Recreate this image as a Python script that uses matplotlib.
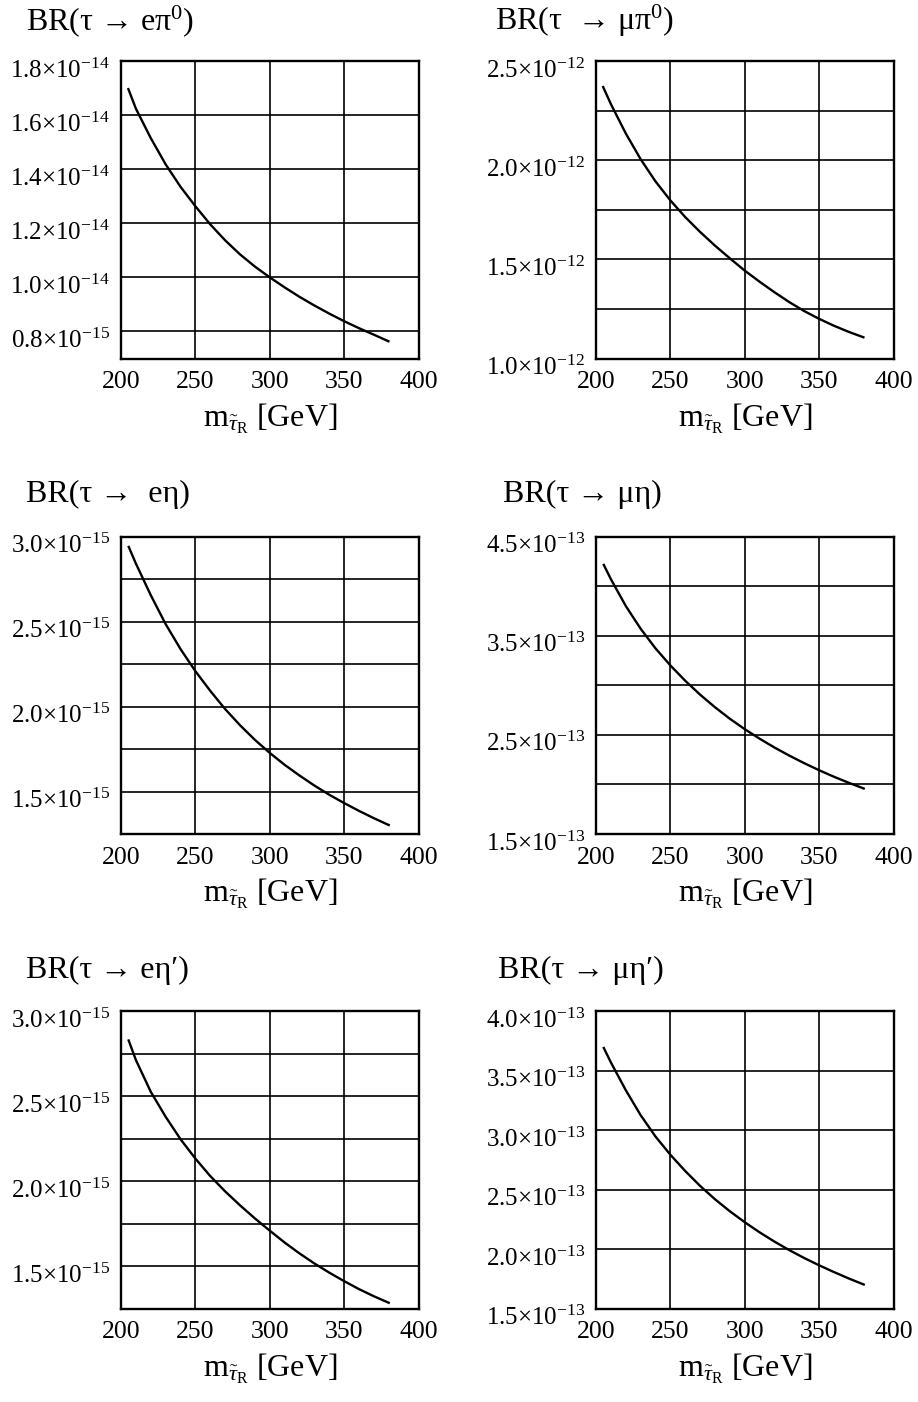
import matplotlib
matplotlib.use("Agg")
import matplotlib.pyplot as plt
import matplotlib.ticker as ticker
import matplotlib.transforms as mtransforms

plt.rcParams['font.family'] = ['Liberation Serif', 'DejaVu Serif']
plt.rcParams['mathtext.fontset'] = 'custom'
plt.rcParams['mathtext.rm'] = 'Liberation Serif'
plt.rcParams['mathtext.it'] = 'Liberation Serif:italic'
plt.rcParams['mathtext.bf'] = 'Liberation Serif:bold'

# panel titles
titles = [
    "BR(τ → eπ${}^{0}$)",
    "BR(τ  → μπ${}^{0}$)",
    "BR(τ →  eη)",
    "BR(τ → μη)",
    "BR(τ → eη′)",
    "BR(τ → μη′)",
]

# stau mass [GeV] and branching ratio (in units of 10^exponent)
m_e_pi = [204.7, 210, 220, 230, 240, 250, 260, 270, 280, 290, 300,
          310, 320, 330, 340, 350, 360, 370, 380.5]
br_e_pi = [1.70, 1.624, 1.515, 1.418, 1.335, 1.263, 1.196, 1.137, 1.085, 1.040, 1.000,
           0.963, 0.928, 0.896, 0.866, 0.838, 0.812, 0.788, 0.762]

m_mu_pi = [204.5, 210, 220, 230, 240, 250, 260, 270, 280, 290, 300,
           310, 320, 330, 340, 350, 360, 370, 380.5]
br_mu_pi = [2.374, 2.283, 2.135, 2.005, 1.893, 1.797, 1.713, 1.638, 1.569, 1.505, 1.443,
            1.387, 1.334, 1.284, 1.239, 1.200, 1.165, 1.134, 1.105]

m_e_eta = [204.9, 210, 220, 230, 240, 250, 260, 270, 280, 290, 300,
           310, 320, 330, 340, 350, 360, 370, 380.7]
br_e_eta = [2.945, 2.841, 2.655, 2.485, 2.338, 2.208, 2.092, 1.985, 1.890, 1.804, 1.727,
            1.657, 1.594, 1.535, 1.481, 1.432, 1.386, 1.343, 1.300]

m_mu_eta = [204.9, 210, 220, 230, 240, 250, 260, 270, 280, 290, 300,
            310, 320, 330, 340, 350, 360, 370, 380.7]
br_mu_eta = [4.224, 4.07, 3.80, 3.57, 3.372, 3.200, 3.045, 2.905, 2.778, 2.662, 2.557,
             2.461, 2.372, 2.290, 2.214, 2.143, 2.077, 2.016, 1.955]

m_e_etap = [204.9, 210, 220, 230, 240, 250, 260, 270, 280, 290, 300,
            310, 320, 330, 340, 350, 360, 370, 380.7]
br_e_etap = [2.833, 2.712, 2.525, 2.378, 2.246, 2.132, 2.029, 1.939, 1.857, 1.780, 1.708,
             1.638, 1.574, 1.515, 1.461, 1.411, 1.364, 1.322, 1.281]

m_mu_etap = [204.9, 210, 220, 230, 240, 250, 260, 270, 280, 290, 300,
             310, 320, 330, 340, 350, 360, 370, 380.7]
br_mu_etap = [3.698, 3.568, 3.335, 3.125, 2.945, 2.792, 2.655, 2.530, 2.418, 2.317, 2.225,
              2.140, 2.062, 1.990, 1.924, 1.863, 1.806, 1.752, 1.698]

masses = [m_e_pi, m_mu_pi, m_e_eta, m_mu_eta, m_e_etap, m_mu_etap]
brs = [br_e_pi, br_mu_pi, br_e_eta, br_mu_eta, br_e_etap, br_mu_etap]
exponents = [-14, -12, -15, -13, -15, -13]

# y grid positions and tick labels (empty string = grid line only)
y_limits = [(0.7, 1.8), (1.0, 2.5), (1.25, 3.0), (1.5, 4.5), (1.25, 3.0), (1.5, 4.0)]
y_ticks = [
    [0.8, 1.0, 1.2, 1.4, 1.6, 1.8],
    [1.0, 1.25, 1.5, 1.75, 2.0, 2.25, 2.5],
    [1.25, 1.5, 1.75, 2.0, 2.25, 2.5, 2.75, 3.0],
    [1.5, 2.0, 2.5, 3.0, 3.5, 4.0, 4.5],
    [1.25, 1.5, 1.75, 2.0, 2.25, 2.5, 2.75, 3.0],
    [1.5, 2.0, 2.5, 3.0, 3.5, 4.0],
]
y_labels = [
    ["0.8×10$^{-15}$", "1.0×10$^{-14}$", "1.2×10$^{-14}$", "1.4×10$^{-14}$", "1.6×10$^{-14}$", "1.8×10$^{-14}$"],
    ["1.0×10$^{-12}$", "", "1.5×10$^{-12}$", "", "2.0×10$^{-12}$", "", "2.5×10$^{-12}$"],
    ["", "1.5×10$^{-15}$", "", "2.0×10$^{-15}$", "", "2.5×10$^{-15}$", "", "3.0×10$^{-15}$"],
    ["1.5×10$^{-13}$", "", "2.5×10$^{-13}$", "", "3.5×10$^{-13}$", "", "4.5×10$^{-13}$"],
    ["", "1.5×10$^{-15}$", "", "2.0×10$^{-15}$", "", "2.5×10$^{-15}$", "", "3.0×10$^{-15}$"],
    ["1.5×10$^{-13}$", "2.0×10$^{-13}$", "2.5×10$^{-13}$", "3.0×10$^{-13}$", "3.5×10$^{-13}$", "4.0×10$^{-13}$"],
]
x_ticks = [200, 250, 300, 350, 400]
x_label = r"m$_{\tilde{\tau}_{\mathrm{R}}}$ [GeV]"

W, H = 918, 1402
fig = plt.figure(figsize=(W / 100, H / 100), dpi=100)

col_left = [121, 596]
row_top = [61, 536.5, 1011]
box = 297.5
title_x = [26, 495, 26, 503, 26, 498]
title_y = [30, 30, 502, 502, 978, 978]
label_shift = mtransforms.ScaledTranslation(0, -5 / 72, fig.dpi_scale_trans)

for i in range(6):
    r, c = divmod(i, 2)
    ax = fig.add_axes([col_left[c] / W, 1 - (row_top[r] + box) / H, box / W, box / H])
    scale = 10.0 ** exponents[i]
    ax.plot(masses[i], [v * scale for v in brs[i]], color='black', lw=1.7,
            solid_capstyle='butt', solid_joinstyle='round', zorder=3)
    ax.set_xlim(200, 400)
    ax.set_ylim(y_limits[i][0] * scale, y_limits[i][1] * scale)
    ax.xaxis.set_major_locator(ticker.FixedLocator(x_ticks))
    ax.set_xticklabels([str(t) for t in x_ticks])
    ax.yaxis.set_major_locator(ticker.FixedLocator([t * scale for t in y_ticks[i]]))
    ax.set_yticklabels(y_labels[i])
    ax.tick_params(axis='x', length=0, labelsize=18.5, pad=9)
    ax.tick_params(axis='y', length=0, labelsize=18, pad=8)
    for lab in ax.get_yticklabels():
        lab.set_transform(lab.get_transform() + label_shift)
    ax.grid(True, color='black', lw=1.2)
    for s in ax.spines.values():
        s.set_linewidth(1.7)
    ax.set_xlabel(x_label, fontsize=23, labelpad=6)
    fig.text(title_x[i] / W, 1 - title_y[i] / H, titles[i], fontsize=23,
             ha='left', va='baseline')

fig.savefig("out.png", dpi=100)
